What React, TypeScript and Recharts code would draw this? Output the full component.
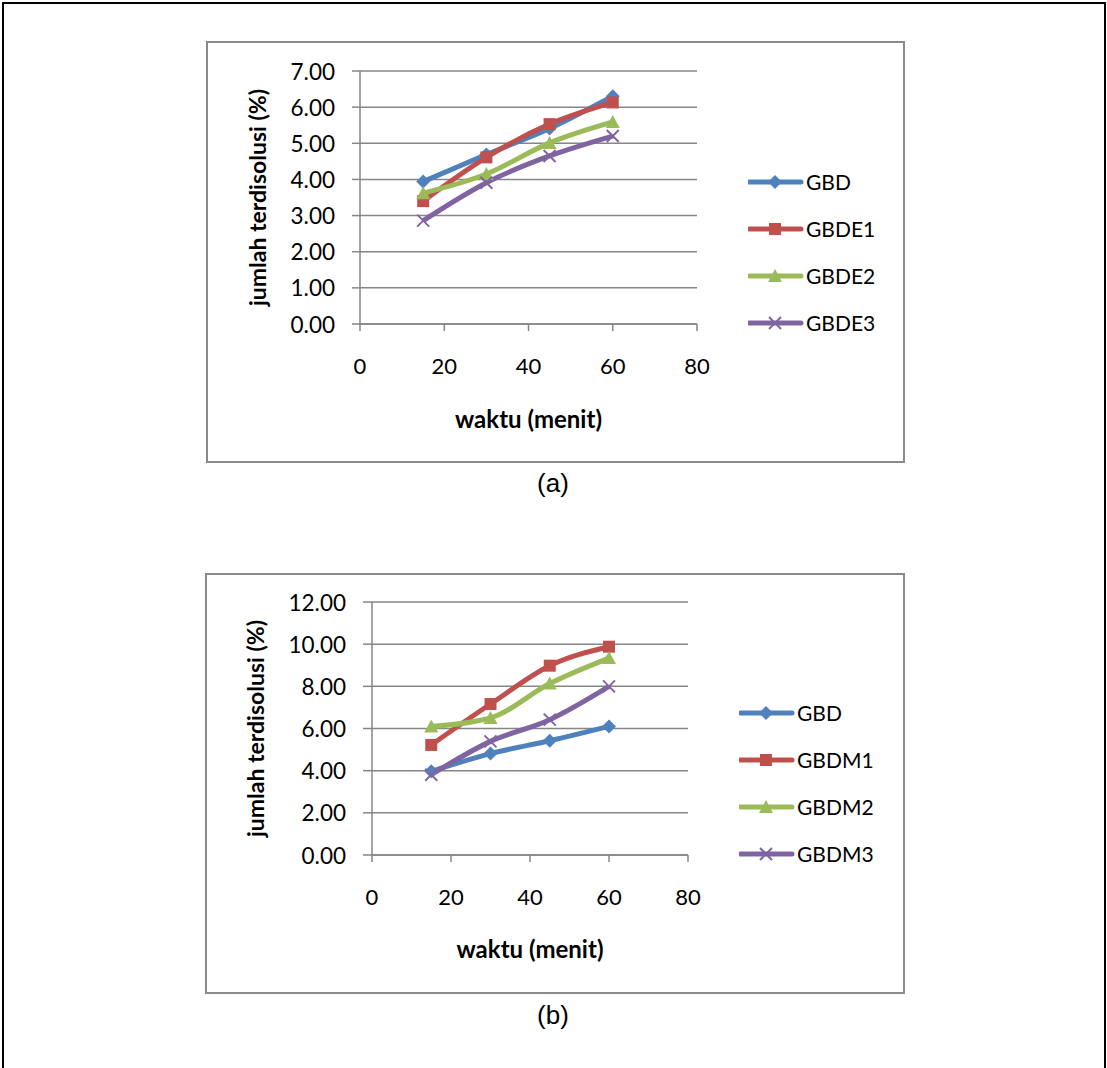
import React from 'react';
import { LineChart, Line, XAxis, YAxis, CartesianGrid, Legend, Label } from 'recharts';

// ---- data ----
const times = [15, 30, 45, 60];
const xTicks = [0, 20, 40, 60, 80];
const yTicksA = [0, 1, 2, 3, 4, 5, 6, 7];
const yTicksB = [0, 2, 4, 6, 8, 10, 12];

const gbdA = [3.94, 4.69, 5.41, 6.3];
const gbde1 = [3.4, 4.61, 5.53, 6.13];
const gbde2 = [3.62, 4.15, 5.01, 5.59];
const gbde3 = [2.86, 3.91, 4.65, 5.2];

const gbdB = [3.97, 4.81, 5.42, 6.1];
const gbdm1 = [5.22, 7.16, 8.98, 9.88];
const gbdm2 = [6.1, 6.5, 8.13, 9.34];
const gbdm3 = [3.81, 5.39, 6.42, 8.0];

const namesA = ['GBD', 'GBDE1', 'GBDE2', 'GBDE3'];
const namesB = ['GBD', 'GBDM1', 'GBDM2', 'GBDM3'];

const COLORS = ['#4F81BD', '#C0504D', '#9BBB59', '#8064A2'];
const MARKERS = ['diamond', 'square', 'triangle', 'x'];

const GRID = '#868686';
const FONT = 'Lato, "Open Sans", sans-serif';

function buildRows(names: string[], values: number[][]) {
  return times.map((t, i) => {
    const row: any = { t };
    names.forEach((n, j) => {
      row[n] = values[j][i];
    });
    return row;
  });
}

const dataA = buildRows(namesA, [gbdA, gbde1, gbde2, gbde3]);
const dataB = buildRows(namesB, [gbdB, gbdm1, gbdm2, gbdm3]);

function Marker({ kind, cx, cy, color }: { kind: string; cx: number; cy: number; color: string }) {
  if (kind === 'diamond') {
    return <path d={`M${cx},${cy - 7}L${cx + 7},${cy}L${cx},${cy + 7}L${cx - 7},${cy}Z`} fill={color} />;
  }
  if (kind === 'square') {
    return <rect x={cx - 6} y={cy - 6} width={12} height={12} fill={color} />;
  }
  if (kind === 'triangle') {
    return <path d={`M${cx},${cy - 7}L${cx + 7},${cy + 6}L${cx - 7},${cy + 6}Z`} fill={color} />;
  }
  return (
    <g stroke={color} strokeWidth={2}>
      <line x1={cx - 6} y1={cy - 6} x2={cx + 6} y2={cy + 6} />
      <line x1={cx - 6} y1={cy + 6} x2={cx + 6} y2={cy - 6} />
    </g>
  );
}

type ChartProps = {
  left: number;
  top: number;
  width: number;
  height: number;
  plotLeft: number;
  plotTop: number;
  plotRight: number;
  plotBottom: number;
  yTickSize: number;
  yTickMargin: number;
  yDomain: [number, number];
  yTicks: number[];
  data: any[];
  names: string[];
  legendLeft: number;
  legendTop: number;
  yTitleX: number;
  xTitleOffset: number;
};

function DissolutionChart(p: ChartProps) {
  const legendContent = () => (
    <div style={{ fontFamily: FONT, fontSize: 21, color: '#000' }}>
      {p.names.map((n, i) => (
        <div key={n} style={{ display: 'flex', alignItems: 'center', height: 47 }}>
          <svg width={58} height={20} style={{ display: 'block' }}>
            <line x1={1} y1={10} x2={53} y2={10} stroke={COLORS[i]} strokeWidth={5} strokeLinecap="round" />
            <Marker kind={MARKERS[i]} cx={27} cy={10} color={COLORS[i]} />
          </svg>
          <span>{n}</span>
        </div>
      ))}
    </div>
  );

  return (
    <>
      <div
        style={{
          position: 'absolute',
          left: p.left,
          top: p.top,
          width: p.width,
          height: p.height,
          border: '2px solid #8a8a8a',
          boxSizing: 'border-box',
        }}
      />
      <div style={{ position: 'absolute', left: p.left, top: p.top }}>
        <LineChart
          width={p.width}
          height={p.height}
          data={p.data}
          margin={{ top: p.plotTop, right: p.plotRight, bottom: 0, left: 0 }}
        >
          <CartesianGrid vertical={false} stroke={GRID} strokeWidth={1.5} />
          <XAxis
            dataKey="t"
            type="number"
            domain={[0, 80]}
            ticks={xTicks}
            height={p.plotBottom}
            axisLine={{ stroke: GRID, strokeWidth: 1.5 }}
            tickLine={{ stroke: GRID, strokeWidth: 1.5 }}
            tickSize={7}
            tickMargin={0}
            interval={0}
            tick={(tp: any) => (
              <text
                x={tp.x}
                y={tp.y + 34}
                textAnchor="middle"
                dominantBaseline="central"
                fontFamily={FONT}
                fontSize={22}
                fill="#000"
              >
                {tp.payload.value}
              </text>
            )}
          >
            <Label
              content={(lp: any) => {
                const vb = lp.viewBox;
                return (
                  <text
                    x={vb.x + vb.width / 2}
                    y={vb.y + p.xTitleOffset}
                    textAnchor="middle"
                    dominantBaseline="central"
                    fontFamily={FONT}
                    fontWeight="bold"
                    fontSize={24}
                    fill="#000"
                  >
                    waktu (menit)
                  </text>
                );
              }}
            />
          </XAxis>
          <YAxis
            type="number"
            domain={p.yDomain}
            ticks={p.yTicks}
            width={p.plotLeft}
            interval={0}
            axisLine={{ stroke: GRID, strokeWidth: 1.5 }}
            tickLine={{ stroke: GRID, strokeWidth: 1.5 }}
            tickSize={p.yTickSize}
            tickMargin={p.yTickMargin}
            tick={(tp: any) => (
              <text
                x={tp.x}
                y={tp.y}
                textAnchor="end"
                dominantBaseline="central"
                fontFamily={FONT}
                fontSize={22.5}
                fill="#000"
              >
                {Number(tp.payload.value).toFixed(2)}
              </text>
            )}
          >
            <Label
              content={(lp: any) => {
                const vb = lp.viewBox;
                const cy = vb.y + vb.height / 2;
                return (
                  <text
                    x={p.yTitleX}
                    y={cy}
                    textAnchor="middle"
                    dominantBaseline="central"
                    transform={`rotate(-90 ${p.yTitleX} ${cy})`}
                    fontFamily={FONT}
                    fontWeight="bold"
                    fontSize={23}
                    fill="#000"
                  >
                    jumlah terdisolusi (%)
                  </text>
                );
              }}
            />
          </YAxis>
          <Legend
            layout="vertical"
            align="center"
            verticalAlign="middle"
            width={200}
            wrapperStyle={{ left: p.legendLeft, top: p.legendTop, width: 200 }}
            content={legendContent}
          />
          {p.names.map((n, i) => (
            <Line
              key={n}
              dataKey={n}
              name={n}
              type="monotone"
              stroke={COLORS[i]}
              strokeWidth={5}
              isAnimationActive={false}
              dot={(dp: any) => (
                <Marker key={`${n}-${dp.index}`} kind={MARKERS[i]} cx={dp.cx} cy={dp.cy} color={COLORS[i]} />
              )}
              activeDot={false}
            />
          ))}
        </LineChart>
      </div>
    </>
  );
}

export default function App() {
  return (
    <div
      style={{
        position: 'fixed',
        left: 0,
        top: 0,
        width: 1107,
        height: 1068,
        overflow: 'hidden',
        background: '#fff',
      }}
    >
      <div
        style={{
          position: 'absolute',
          left: 2,
          top: 2,
          width: 1104,
          height: 1100,
          boxSizing: 'border-box',
          borderLeft: '2px solid #000',
          borderTop: '2px solid #000',
          borderRight: '2px solid #000',
        }}
      />
      <DissolutionChart
        left={206}
        top={41}
        width={699}
        height={422}
        plotLeft={154}
        plotTop={30}
        plotRight={208}
        plotBottom={139}
        yTickSize={8}
        yTickMargin={17}
        yDomain={[0, 7]}
        yTicks={yTicksA}
        data={dataA}
        names={namesA}
        legendLeft={542}
        legendTop={117}
        yTitleX={51}
        xTitleOffset={94}
      />
      <div
        style={{
          position: 'absolute',
          left: 453,
          top: 468,
          width: 200,
          textAlign: 'center',
          fontFamily: '"Liberation Sans", Arial, sans-serif',
          fontSize: 26,
          lineHeight: '30px',
        }}
      >
        (a)
      </div>
      <DissolutionChart
        left={205}
        top={573}
        width={700}
        height={421}
        plotLeft={167}
        plotTop={29}
        plotRight={217}
        plotBottom={139}
        yTickSize={9}
        yTickMargin={17}
        yDomain={[0, 12]}
        yTicks={yTicksB}
        data={dataB}
        names={namesB}
        legendLeft={534}
        legendTop={116}
        yTitleX={50}
        xTitleOffset={93}
      />
      <div
        style={{
          position: 'absolute',
          left: 453,
          top: 1000,
          width: 200,
          textAlign: 'center',
          fontFamily: '"Liberation Sans", Arial, sans-serif',
          fontSize: 26,
          lineHeight: '30px',
        }}
      >
        (b)
      </div>
    </div>
  );
}
